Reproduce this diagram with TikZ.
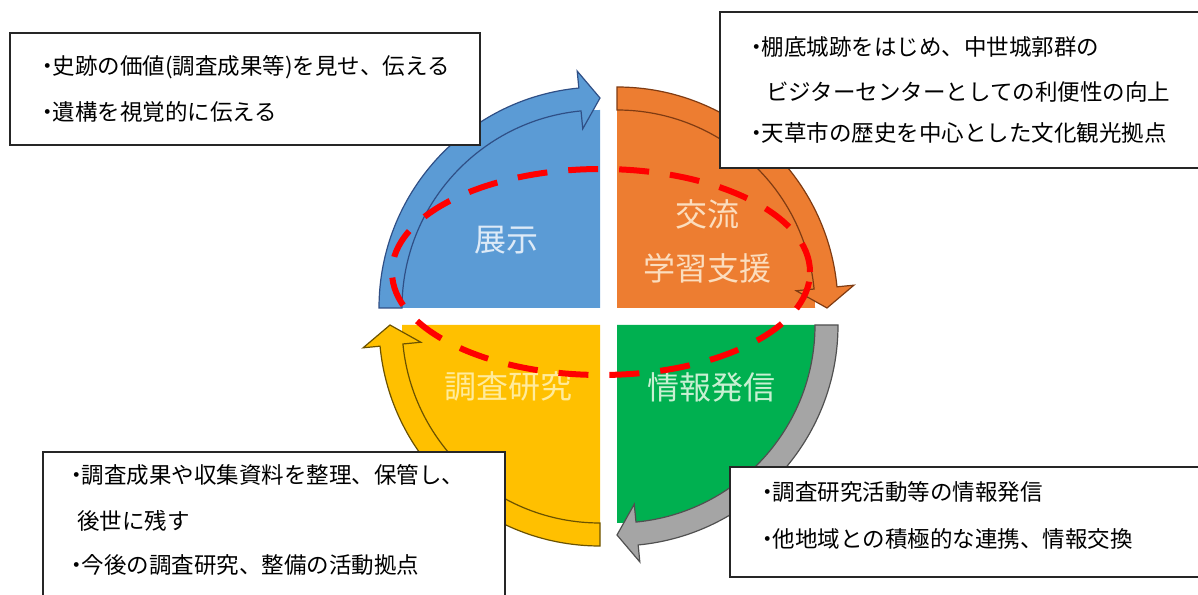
\documentclass[tikz,border=0pt]{standalone}
\usepackage{fontspec}
\newfontfamily\jpfont{Noto Sans CJK JP}
\usepackage{tikz}
\usetikzlibrary{calc}
\usepackage{xcolor}
\definecolor{tenjiblue}{HTML}{5B9BD5}
\definecolor{tenjiline}{HTML}{2F4F86}
\definecolor{kouryuorange}{HTML}{ED7D31}
\definecolor{kouryuline}{HTML}{7F3B12}
\definecolor{chousayellow}{HTML}{FFC000}
\definecolor{chousaline}{HTML}{6B5200}
\definecolor{jouhougreen}{HTML}{00B050}
\definecolor{jouhougray}{HTML}{A5A5A5}
\definecolor{jouhouline}{HTML}{505050}
\definecolor{tenjitext}{HTML}{DDEAF7}
\definecolor{kouryutext}{HTML}{FBDDBE}
\definecolor{chousatext}{HTML}{FFEB9C}
\definecolor{jouhoutext}{HTML}{C8F0D2}
\tikzstyle{band} = [line width=1.2pt, line join=miter]
\tikzstyle{quadlabel} = [inner sep=0pt, align=center, font=\jpfont\fontsize{32}{54}\selectfont]
\tikzstyle{redloop} = [draw=red, line width=6pt, dash pattern=on 30pt off 21pt]
\tikzstyle{notebox} = [draw=black!85, fill=white, line width=1.3pt]
\tikzstyle{noteline} = [anchor=west, inner sep=0pt, font=\jpfont\fontsize{22.5}{22.5}\selectfont]
\newcommand{\bulletjp}{\kern-5pt・\kern-6pt}

\begin{document}
\begin{tikzpicture}[x=1pt, y=1pt]
    \useasboundingbox (0,0) rectangle (1198,594);
    % corners of the quarters
    \coordinate (cb) at (600,286);
    \coordinate (co) at (617,286);
    \coordinate (cg) at (617,269);
    \coordinate (cy) at (600,269);
    % quarters
    \fill[tenjiblue] (cb) -- ++(-198,0) arc[start angle=180, end angle=90, radius=198pt] -- cycle;
    \fill[kouryuorange] (co) -- ++(0,198) arc[start angle=90, end angle=0, radius=198pt] -- cycle;
    \fill[jouhougreen] (cg) -- ++(198,0) arc[start angle=0, end angle=-90, radius=198pt] -- cycle;
    \fill[chousayellow] (cy) -- ++(0,-198) arc[start angle=270, end angle=180, radius=198pt] -- cycle;
    % curved arrows
    \filldraw[band, fill=tenjiblue, draw=tenjiline] ($(cb)+(180:221)$) arc[start angle=180, end angle=95.5, radius=221pt]
        -- ($(cb)+(95.5:238)$) -- ($(cb)+(90:210)$) -- ($(cb)+(95.5:180)$) -- ($(cb)+(95.5:198)$)
        arc[start angle=95.5, end angle=180, radius=198pt] -- cycle;
    \filldraw[band, fill=kouryuorange, draw=kouryuline] ($(co)+(90:221)$) arc[start angle=90, end angle=5.5, radius=221pt]
        -- ($(co)+(5.5:238)$) -- ($(co)+(0:210)$) -- ($(co)+(5.5:180)$) -- ($(co)+(5.5:198)$)
        arc[start angle=5.5, end angle=90, radius=198pt] -- cycle;
    \filldraw[band, fill=jouhougray, draw=jouhouline] ($(cg)+(0:221)$) arc[start angle=0, end angle=-84.5, radius=221pt]
        -- ($(cg)+(-84.5:238)$) -- ($(cg)+(-90:210)$) -- ($(cg)+(-84.5:180)$) -- ($(cg)+(-84.5:198)$)
        arc[start angle=-84.5, end angle=0, radius=198pt] -- cycle;
    \filldraw[band, fill=chousayellow, draw=chousaline] ($(cy)+(270:221)$) arc[start angle=270, end angle=185.5, radius=221pt]
        -- ($(cy)+(185.5:238)$) -- ($(cy)+(180:210)$) -- ($(cy)+(185.5:180)$) -- ($(cy)+(185.5:198)$)
        arc[start angle=185.5, end angle=270, radius=198pt] -- cycle;
    % quarter labels
    \node[quadlabel, text=tenjitext] (tenji) at (506,354) {展示};
    \node[quadlabel, text=kouryutext] (kouryu) at (707,353) {交流\\学習支援};
    \node[quadlabel, text=chousatext] (chousa) at (508,208) {調査研究};
    \node[quadlabel, text=jouhoutext] (jouhou) at (711,207) {情報発信};
    % red dashed loop
    \draw[redloop] (601,322) ellipse [x radius=209pt, y radius=103pt];
    % boxes
    \draw[notebox] (10,449) rectangle (480,561);
    \node[noteline] (ten1) at (41,527) {\bulletjp 史跡の価値(調査成果等)を見せ、伝える};
    \node[noteline] (ten2) at (41,482) {\bulletjp 遺構を視覚的に伝える};
    \draw[notebox] (720,426) rectangle (1210,582);
    \node[noteline] (ko1) at (750,547) {\bulletjp 棚底城跡をはじめ、中世城郭群の};
    \node[noteline] (ko2) at (766,502) {ビジターセンターとしての利便性の向上};
    \node[noteline] (ko3) at (750,461) {\bulletjp 天草市の歴史を中心とした文化観光拠点};
    \draw[notebox] (43,-10) rectangle (505,142);
    \node[noteline] (ch1) at (70,119) {\bulletjp 調査成果や収集資料を整理、保管し、};
    \node[noteline] (ch2) at (77,73) {後世に残す};
    \node[noteline] (ch3) at (70,29) {\bulletjp 今後の調査研究、整備の活動拠点};
    \draw[notebox] (730,17) rectangle (1210,127);
    \node[noteline] (jo1) at (761,102) {\bulletjp 調査研究活動等の情報発信};
    \node[noteline] (jo2) at (761,55) {\bulletjp 他地域との積極的な連携、情報交換};
\end{tikzpicture}
\end{document}
